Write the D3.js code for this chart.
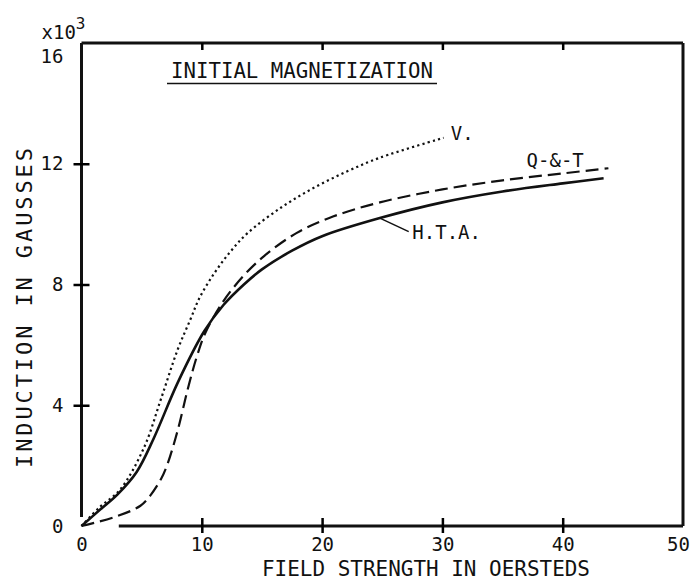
<!DOCTYPE html>
<html>
<head>
<meta charset="utf-8">
<script src="https://cdn.jsdelivr.net/npm/d3@7"></script>
<style>
  body { margin: 0; background: #fff; }
  svg text { font-family: "DejaVu Sans Mono", monospace; fill: #111; }
</style>
</head>
<body>
<div id="chart"></div>
<script>
// curves (field in oersteds, induction in kilogauss)
var htaX = [0, 1.6, 3.0, 4.6, 6.0, 8.0, 10.2, 11.8, 13.5, 15.0, 17.5, 20.0, 24.8, 30.0, 35.0, 40.0, 43.4];
var htaY = [0, 0.56, 1.05, 1.8, 2.9, 4.75, 6.45, 7.32, 8.0, 8.5, 9.12, 9.6, 10.2, 10.72, 11.08, 11.35, 11.52];

var qtX = [0, 2.7, 4.9, 5.7, 6.6, 7.1, 7.95, 8.9, 9.6, 10.3, 11.8, 13.5, 15.2, 17.9, 20.9, 24.8, 30.0, 35.0, 40.0, 43.8];
var qtY = [0, 0.29, 0.67, 1.0, 1.55, 2.0, 3.1, 4.64, 5.63, 6.4, 7.45, 8.3, 8.95, 9.71, 10.25, 10.72, 11.15, 11.45, 11.68, 11.85];

var vX = [0, 1.5, 3.2, 5.2, 6.6, 8.0, 9.05, 9.8, 11.0, 12.3, 13.8, 16.6, 19.3, 22.1, 24.8, 30.1];
var vY = [0, 0.62, 1.2, 2.6, 4.2, 5.85, 6.84, 7.55, 8.35, 9.05, 9.7, 10.55, 11.2, 11.75, 12.2, 12.86];

var xTicks = [0, 10, 20, 30, 40, 50];
var yTicks = [0, 4, 8, 12, 16];

var W = 696, H = 588;

var x = d3.scaleLinear().domain([0, 50]).range([81.5, 683]);
var y = d3.scaleLinear().domain([0, 16]).range([526, 43]);

var svg = d3.select("#chart").append("svg")
  .attr("width", W)
  .attr("height", H);

// frame (bottom line starts a bit right of the origin, left line stops short of it)
var frame = svg.append("g").attr("stroke", "#111").attr("stroke-width", 3).attr("fill", "none");
frame.append("line").attr("x1", x(0)).attr("y1", y(16)).attr("x2", x(0)).attr("y2", y(0.3));
frame.append("line").attr("x1", x(3.1)).attr("y1", y(0)).attr("x2", x(50)).attr("y2", y(0));
frame.append("line").attr("x1", x(0)).attr("y1", y(16)).attr("x2", x(50)).attr("y2", y(16));
frame.append("line").attr("x1", x(50)).attr("y1", y(16)).attr("x2", x(50)).attr("y2", y(0));

// bottom axis
var xAxis = svg.append("g")
  .attr("transform", "translate(0," + y(0) + ")")
  .call(d3.axisBottom(x).tickValues(xTicks).tickSize(7).tickPadding(5));
xAxis.select(".domain").remove();
xAxis.selectAll(".tick line")
  .attr("y1", -8).attr("y2", 7)
  .attr("stroke-width", 2.5)
  .filter(d => d == 0 || d == 50).remove();
xAxis.selectAll("text")
  .attr("font-size", 19)
  .attr("font-family", "DejaVu Sans Condensed")
  .attr("dx", d => d == 50 ? -5 : 0);

// top ticks only
var xTop = svg.append("g")
  .attr("transform", "translate(0," + y(16) + ")")
  .call(d3.axisTop(x).tickValues([10, 20, 30, 40]).tickSize(-7).tickFormat(""));
xTop.select(".domain").remove();
xTop.selectAll(".tick line").attr("stroke-width", 2.5);

// left axis
var yAxis = svg.append("g")
  .attr("transform", "translate(" + x(0) + ",0)")
  .call(d3.axisLeft(y).tickValues(yTicks).tickSize(8).tickPadding(10));
yAxis.select(".domain").remove();
yAxis.selectAll(".tick line")
  .attr("x1", -8).attr("x2", 8)
  .attr("stroke-width", 2.5)
  .filter(d => d == 0 || d == 16).remove();
yAxis.selectAll("text")
  .attr("font-size", 19)
  .attr("font-family", "DejaVu Sans Condensed")
  .attr("dy", d => d == 16 ? "1.05em" : "0.32em");

// x10^3 multiplier
var mult = svg.append("text")
  .attr("x", x(0) - 40)
  .attr("y", y(16) - 4)
  .attr("font-size", 19)
  .attr("font-family", "DejaVu Sans Condensed");
mult.append("tspan").text("x10");
mult.append("tspan").attr("dy", -10).attr("font-size", 16).text("3");

// curves
var line = d3.line()
  .x(d => x(d[0]))
  .y(d => y(d[1]))
  .curve(d3.curveCatmullRom.alpha(0.5));

var zip = (a, b) => a.map((v, i) => [v, b[i]]);

svg.append("path")
  .datum(zip(vX, vY))
  .attr("d", line)
  .attr("fill", "none")
  .attr("stroke", "#111")
  .attr("stroke-width", 2.2)
  .attr("stroke-dasharray", "2.2,3.2");

svg.append("path")
  .datum(zip(qtX, qtY))
  .attr("d", line)
  .attr("fill", "none")
  .attr("stroke", "#111")
  .attr("stroke-width", 2.2)
  .attr("stroke-dasharray", "13,6");

svg.append("path")
  .datum(zip(htaX, htaY))
  .attr("d", line)
  .attr("fill", "none")
  .attr("stroke", "#111")
  .attr("stroke-width", 2.6);

// curve labels
svg.append("text").attr("x", x(30.7)).attr("y", y(12.8)).attr("font-size", 19).text("V.");
svg.append("text").attr("x", x(37.0)).attr("y", y(11.88)).attr("font-size", 19).text("Q-&-T");
svg.append("text").attr("x", x(27.5)).attr("y", y(9.5)).attr("font-size", 19).text("H.T.A.");
svg.append("line")
  .attr("x1", x(24.8)).attr("y1", y(10.2))
  .attr("x2", x(27.2)).attr("y2", y(9.75))
  .attr("stroke", "#111").attr("stroke-width", 1.5);

// title with underline
svg.append("text")
  .attr("x", 171)
  .attr("y", 78)
  .attr("font-size", 21)
  .attr("textLength", 262)
  .attr("lengthAdjust", "spacingAndGlyphs")
  .text("INITIAL MAGNETIZATION");
svg.append("line")
  .attr("x1", 167).attr("y1", 83.5).attr("x2", 437).attr("y2", 83.5)
  .attr("stroke", "#111").attr("stroke-width", 1.5);

// axis titles
svg.append("text")
  .attr("x", 426)
  .attr("y", 576)
  .attr("text-anchor", "middle")
  .attr("font-size", 21)
  .attr("textLength", 328)
  .attr("lengthAdjust", "spacingAndGlyphs")
  .text("FIELD STRENGTH IN OERSTEDS");

svg.append("text")
  .attr("transform", "translate(32,308) rotate(-90)")
  .attr("text-anchor", "middle")
  .attr("font-size", 22)
  .attr("textLength", 320)
  .attr("lengthAdjust", "spacing")
  .text("INDUCTION IN GAUSSES");
</script>
</body>
</html>
